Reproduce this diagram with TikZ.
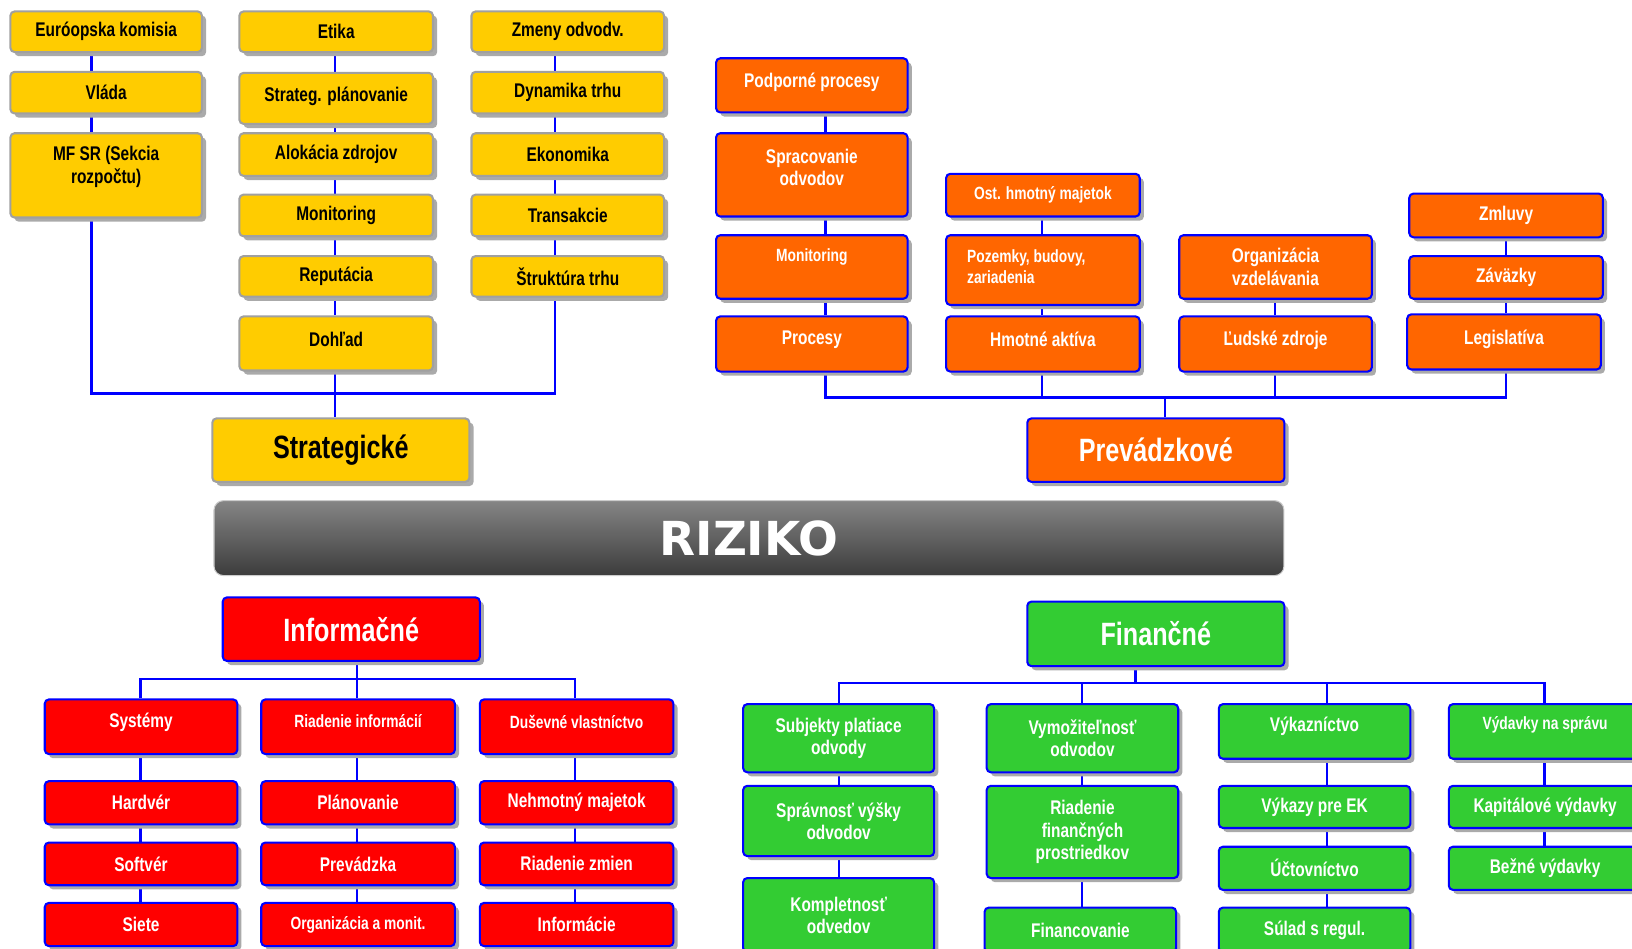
\documentclass[tikz,border=0pt]{standalone}
\usepackage{fontspec}
\usetikzlibrary{shadows,backgrounds}
\newfontfamily\condf[FakeStretch=0.78]{Liberation Sans}
\newfontfamily\rizf{DejaVu Sans}
\definecolor{cYel}{HTML}{FFCC00}
\definecolor{cYelLine}{HTML}{A0A0A0}
\definecolor{cOra}{HTML}{FF6600}
\definecolor{cRed}{HTML}{FF0000}
\definecolor{cGrn}{HTML}{33CC33}
\definecolor{cBlue}{HTML}{0000FF}
\definecolor{cShadow}{HTML}{AAAAAA}
\definecolor{cBarTop}{HTML}{858585}
\definecolor{cBarBot}{HTML}{3C3C3C}

\tikzset{
  box/.style={rounded corners=4pt, inner sep=0pt, line width=2pt,
    drop shadow={shadow xshift=4pt, shadow yshift=-4pt, fill=cShadow, opacity=1}},
  txt/.style={inner sep=0pt, align=center,
    font=\condf\bfseries\fontsize{19}{21.5}\selectfont},
  small/.style={font=\condf\bfseries\fontsize{17}{20}\selectfont},
  title/.style={font=\condf\bfseries\fontsize{31}{34}\selectfont},
  yel/.style={fill=cYel, draw=cYelLine},
  yel text/.style={text=black},
  ora/.style={fill=cOra, draw=cBlue},
  ora text/.style={text=white},
  red/.style={fill=cRed, draw=cBlue},
  red text/.style={text=white},
  grn/.style={fill=cGrn, draw=cBlue},
  grn text/.style={text=white},
  conn/.style={color=cBlue, line width=2.2pt},
  bar/.style={rounded corners=9pt, top color=cBarTop, bottom color=cBarBot,
    draw=gray!40, line width=1pt, inner sep=0pt,
    minimum width=1028, minimum height=72,
    text=white, font=\rizf\bfseries\fontsize{45}{50}\selectfont},
}

% box: [text options]{colour class}{name}{x1}{y1}{x2}{y2}{label}
\newcommand\bx[8][]{%
  \node[box, #2, minimum width={#6-#4}, minimum height={#7-#5}]
    (#3) at ({(#4+#6)/2},{(#5+#7)/2}) {};
  \node[txt, #2 text, #1] (#3-t) at (#3.center) {#8};
}

\begin{document}
\begin{tikzpicture}[x=1pt, y=-1pt]
\useasboundingbox (0,0) rectangle (1568,911);
\clip (0,0) rectangle (1568,911);

% ---------- Strategické ----------
\bx{yel}{eu}{10}{11}{194}{50}{Euróopska komisia}
\bx{yel}{vlada}{10}{69}{194}{109}{Vláda}
\bx[yshift=8]{yel}{mfsr}{10}{128}{194}{209}{MF SR (Sekcia\\rozpočtu)}
\bx{yel}{etika}{230}{11}{416}{50}{Etika}
\bx[yshift=2]{yel}{strplan}{230}{70}{416}{119}{Strateg. plánovanie}
\bx{yel}{alok}{230}{128}{416}{169}{Alokácia zdrojov}
\bx{yel}{monit}{230}{187}{416}{227}{Monitoring}
\bx{yel}{reput}{230}{246}{416}{285}{Reputácia}
\bx[yshift=4]{yel}{dohlad}{230}{304}{416}{356}{Dohľad}
\bx{yel}{zmeny}{453}{11}{638}{50}{Zmeny odvodv.}
\bx{yel}{dyn}{453}{69}{638}{109}{Dynamika trhu}
\bx{yel}{ekon}{453}{128}{638}{169}{Ekonomika}
\bx{yel}{trans}{453}{187}{638}{227}{Transakcie}
\bx{yel}{strukt}{453}{246}{638}{285}{Štruktúra trhu}
\bx[title]{yel}{strat}{204}{402}{451}{463}{Strategické}

% ---------- Prevádzkové ----------
\bx[yshift=3]{ora}{podp}{688}{56}{872}{108}{Podporné procesy}
\bx[yshift=7]{ora}{sprac}{688}{128}{872}{208}{Spracovanie\\odvodov}
\bx[small,yshift=10]{ora}{monito}{688}{226}{872}{287}{Monitoring}
\bx[yshift=4]{ora}{proc}{688}{304}{872}{357}{Procesy}
\bx[small]{ora}{ost}{909}{167}{1095}{208}{Ost. hmotný majetok}
\bx[small,align=left,anchor=west,xshift=-73,yshift=3]{ora}{pozem}{909}{226}{1095}{293}{Pozemky, budovy,\\zariadenia}
\bx[yshift=4]{ora}{hmot}{909}{304}{1095}{357}{Hmotné aktíva}
\bx{ora}{org}{1133}{226}{1318}{287}{Organizácia\\vzdelávania}
\bx[yshift=4]{ora}{ludske}{1133}{304}{1318}{357}{Ľudské zdroje}
\bx{ora}{zmluvy}{1354}{186}{1540}{228}{Zmluvy}
\bx{ora}{zavaz}{1354}{246}{1540}{287}{Záväzky}
\bx[yshift=2]{ora}{legis}{1352}{302}{1538}{355}{Legislatíva}
\bx[title]{ora}{prev}{987}{402}{1234}{463}{Prevádzkové}

% ---------- central bar ----------
\node[bar] (riziko) at (719.6,517) {RIZIKO};

% ---------- Informačné ----------
\bx[title]{red}{inf}{214}{574}{461}{635}{Informačné}
\bx[yshift=4]{red}{sys}{43}{672}{228}{724.5}{Systémy}
\bx[small,yshift=5]{red}{rinf}{251}{672}{437}{724.5}{Riadenie informácií}
\bx[small,yshift=5]{red}{dus}{461}{672}{647}{724.5}{Duševné vlastníctvo}
\bx{red}{hard}{43}{750.5}{228}{792}{Hardvér}
\bx{red}{plan}{251}{750.5}{437}{792}{Plánovanie}
\bx{red}{neh}{461}{750.5}{647}{792}{Nehmotný majetok}
\bx{red}{soft}{43}{809.5}{228}{850.5}{Softvér}
\bx{red}{prevd}{251}{809.5}{437}{850.5}{Prevádzka}
\bx{red}{rzm}{461}{809.5}{647}{850.5}{Riadenie zmien}
\bx{red}{siete}{43}{867.5}{228}{909}{Siete}
\bx[small]{red}{orgm}{251}{867.5}{437}{909}{Organizácia a monit.}
\bx{red}{info}{461}{867.5}{647}{909}{Informácie}

% ---------- Finančné ----------
\bx[title]{grn}{fin}{987}{578}{1234}{640}{Finančné}
\bx{grn}{subj}{714}{676.5}{897.5}{742}{Subjekty platiace\\odvody}
\bx{grn}{vymoz}{948}{676.5}{1132}{742}{Vymožiteľnosť\\odvodov}
\bx[yshift=4.5]{grn}{vykaz}{1171}{676.5}{1355}{729}{Výkazníctvo}
\bx[small,yshift=6]{grn}{vyd}{1392}{676.5}{1577}{729}{Výdavky na správu}
\bx{grn}{sprav}{714}{755}{897.5}{822.5}{Správnosť výšky\\odvodov}
\bx{grn}{riadfin}{948}{755}{1132}{843.6}{Riadenie\\finančných\\prostriedkov}
\bx{grn}{kompl}{714}{843.6}{897.5}{915}{Kompletnosť\\odvedov}
\bx{grn}{financ}{946}{872}{1130}{915}{Financovanie}
\bx{grn}{vykek}{1171}{755}{1355}{795.5}{Výkazy pre EK}
\bx{grn}{uctov}{1171}{813.5}{1355}{855}{Účtovníctvo}
\bx{grn}{sulad}{1171}{872}{1355}{915}{Súlad s regul.}
\bx{grn}{kapit}{1392}{755}{1577}{795.5}{Kapitálové výdavky}
\bx{grn}{bezne}{1392}{813.5}{1577}{855}{Bežné výdavky}

% ---------- connectors ----------
\coordinate (sL) at (88,378);
\coordinate (sM) at (322,378);
\coordinate (sR) at (533,378);
\coordinate (oA) at (793,382);
\coordinate (oB) at (1001,382);
\coordinate (oC) at (1225,382);
\coordinate (oD) at (1447,382);
\coordinate (oM) at (1119,382);
\coordinate (iL) at (135,652.5);
\coordinate (iM) at (343,652.5);
\coordinate (iR) at (552.5,652.5);
\coordinate (f1) at (806,656.5);
\coordinate (f2) at (1039.5,656.5);
\coordinate (f3) at (1275,656.5);
\coordinate (f4) at (1484,656.5);
\coordinate (fM) at (1091,656.5);

\begin{scope}[on background layer={conn}]
  % strategic tree
  \draw (eu.south -| sL) -- (vlada.north -| sL);
  \draw (vlada.south -| sL) -- (mfsr.north -| sL);
  \draw (mfsr.south -| sL) -- (sL) -- (sR) -- (strukt.south -| sR);
  \draw (etika.south -| sM) -- (strplan.north -| sM);
  \draw (strplan.south -| sM) -- (alok.north -| sM);
  \draw (alok.south -| sM) -- (monit.north -| sM);
  \draw (monit.south -| sM) -- (reput.north -| sM);
  \draw (reput.south -| sM) -- (dohlad.north -| sM);
  \draw (dohlad.south -| sM) -- (strat.north -| sM);
  \draw (zmeny.south -| sR) -- (dyn.north -| sR);
  \draw (dyn.south -| sR) -- (ekon.north -| sR);
  \draw (ekon.south -| sR) -- (trans.north -| sR);
  \draw (trans.south -| sR) -- (strukt.north -| sR);
  % operational tree
  \draw (podp.south -| oA) -- (sprac.north -| oA);
  \draw (sprac.south -| oA) -- (monito.north -| oA);
  \draw (monito.south -| oA) -- (proc.north -| oA);
  \draw (proc.south -| oA) -- (oA) -- (oD) -- (legis.south -| oD);
  \draw (ost.south -| oB) -- (pozem.north -| oB);
  \draw (pozem.south -| oB) -- (hmot.north -| oB);
  \draw (hmot.south -| oB) -- (oB);
  \draw (org.south -| oC) -- (ludske.north -| oC);
  \draw (ludske.south -| oC) -- (oC);
  \draw (zmluvy.south -| oD) -- (zavaz.north -| oD);
  \draw (zavaz.south -| oD) -- (legis.north -| oD);
  \draw (oM) -- (prev.north -| oM);
  % information tree
  \draw (inf.south -| iM) -- (iM);
  \draw (sys.north -| iL) -- (iL) -- (iR) -- (dus.north -| iR);
  \draw (rinf.north -| iM) -- (iM);
  \draw (sys.south -| iL) -- (hard.north -| iL);
  \draw (hard.south -| iL) -- (soft.north -| iL);
  \draw (soft.south -| iL) -- (siete.north -| iL);
  \draw (rinf.south -| iM) -- (plan.north -| iM);
  \draw (plan.south -| iM) -- (prevd.north -| iM);
  \draw (prevd.south -| iM) -- (orgm.north -| iM);
  \draw (dus.south -| iR) -- (neh.north -| iR);
  \draw (neh.south -| iR) -- (rzm.north -| iR);
  \draw (rzm.south -| iR) -- (info.north -| iR);
  % financial tree
  \draw (fin.south -| fM) -- (fM);
  \draw (subj.north -| f1) -- (f1) -- (f4) -- (vyd.north -| f4);
  \draw (vymoz.north -| f2) -- (f2);
  \draw (vykaz.north -| f3) -- (f3);
  \draw (subj.south -| f1) -- (sprav.north -| f1);
  \draw (sprav.south -| f1) -- (kompl.north -| f1);
  \draw (vymoz.south -| f2) -- (riadfin.north -| f2);
  \draw (riadfin.south -| f2) -- (financ.north -| f2);
  \draw (vykaz.south -| f3) -- (vykek.north -| f3);
  \draw (vykek.south -| f3) -- (uctov.north -| f3);
  \draw (uctov.south -| f3) -- (sulad.north -| f3);
  \draw (vyd.south -| f4) -- (kapit.north -| f4);
  \draw (kapit.south -| f4) -- (bezne.north -| f4);
\end{scope}
\end{tikzpicture}
\end{document}
